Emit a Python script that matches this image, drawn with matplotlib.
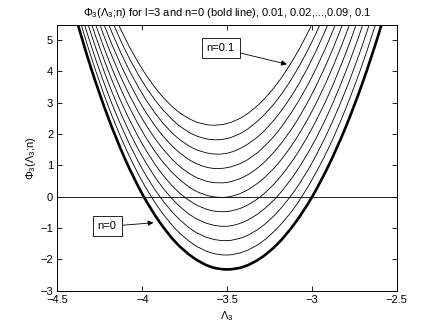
import matplotlib
matplotlib.use("Agg")
import matplotlib.pyplot as plt
from matplotlib.path import Path
from matplotlib.patches import PathPatch

plt.rcParams['font.family'] = ['Liberation Sans', 'DejaVu Sans']
plt.rcParams['mathtext.fontset'] = 'custom'
plt.rcParams['mathtext.rm'] = 'Liberation Sans'
plt.rcParams['mathtext.it'] = 'Liberation Sans'
plt.rcParams['mathtext.default'] = 'regular'
plt.rcParams['axes.unicode_minus'] = True

# Lambda_3 sample positions
lam = [-4.5, -4.4, -4.3, -4.2, -4.1, -4.0, -3.9, -3.8, -3.7, -3.6, -3.5,
       -3.4, -3.3, -3.2, -3.1, -3.0, -2.9, -2.8, -2.7, -2.6, -2.5]

# Phi_3 values for each n
phi_n000 = [7.98, 5.90, 4.08, 2.52, 1.19, 0.09, -0.79, -1.47, -1.94, -2.23, -2.32,
            -2.23, -1.95, -1.49, -0.84, -0.01, 1.02, 2.24, 3.67, 5.32, 7.18]
phi_n001 = [8.32, 6.25, 4.45, 2.89, 1.58, 0.49, -0.38, -1.05, -1.51, -1.78, -1.86,
            -1.75, -1.46, -0.98, -0.32, 0.54, 1.58, 2.83, 4.28, 5.95, 7.84]
phi_n002 = [8.67, 6.61, 4.81, 3.27, 1.97, 0.89, 0.03, -0.62, -1.08, -1.33, -1.40,
            -1.28, -0.97, -0.47, 0.21, 1.08, 2.15, 3.42, 4.89, 6.58, 8.50]
phi_n003 = [9.01, 6.96, 5.18, 3.65, 2.35, 1.29, 0.44, -0.20, -0.64, -0.88, -0.94,
            -0.80, -0.47, 0.04, 0.74, 1.63, 2.71, 4.01, 5.50, 7.22, 9.17]
phi_n004 = [9.35, 7.31, 5.54, 4.02, 2.74, 1.69, 0.85, 0.22, -0.20, -0.43, -0.47,
            -0.32, 0.02, 0.55, 1.27, 2.18, 3.28, 4.60, 6.12, 7.86, 9.83]
phi_n005 = [9.69, 7.67, 5.91, 4.40, 3.13, 2.09, 1.26, 0.65, 0.23, 0.02, -0.01,
            0.16, 0.52, 1.06, 1.80, 2.73, 3.86, 5.19, 6.74, 8.50, 10.50]
phi_n006 = [10.03, 8.02, 6.27, 4.78, 3.52, 2.49, 1.68, 1.07, 0.67, 0.47, 0.46,
            0.64, 1.01, 1.58, 2.33, 3.28, 4.43, 5.79, 7.36, 9.15, 11.18]
phi_n007 = [10.37, 8.37, 6.64, 5.15, 3.91, 2.89, 2.09, 1.50, 1.11, 0.92, 0.93,
            1.12, 1.51, 2.09, 2.87, 3.83, 5.00, 6.38, 7.98, 9.80, 11.85]
phi_n008 = [10.71, 8.73, 7.00, 5.53, 4.30, 3.29, 2.50, 1.92, 1.55, 1.38, 1.39,
            1.61, 2.01, 2.61, 3.40, 4.39, 5.58, 6.98, 8.60, 10.45, 12.53]
phi_n009 = [11.06, 9.08, 7.37, 5.91, 4.68, 3.69, 2.92, 2.35, 1.99, 1.83, 1.86,
            2.09, 2.52, 3.13, 3.94, 4.95, 6.16, 7.59, 9.23, 11.10, 13.21]
phi_n010 = [11.30, 9.35, 7.68, 6.25, 5.05, 4.08, 3.32, 2.77, 2.43, 2.29, 2.34,
            2.58, 3.02, 3.65, 4.48, 5.51, 6.74, 8.19, 9.86, 11.76, 13.90]

thin_curves = [phi_n001, phi_n002, phi_n003, phi_n004, phi_n005,
               phi_n006, phi_n007, phi_n008, phi_n009, phi_n010]

x_ticks = [-4.5, -4.0, -3.5, -3.0, -2.5]
x_ticklabels = ['-4.5', '-4', '-3.5', '-3', '-2.5']
y_ticks = [-3, -2, -1, 0, 1, 2, 3, 4, 5]

title = r'$\Phi_3$($\Lambda_3$;n) for l=3 and n=0 (bold line), 0.01, 0.02,...,0.09, 0.1'


def smooth_path(xs, ys):
    """Smooth (Catmull-Rom as cubic Bezier) path through the given points."""
    pts = list(zip(xs, ys))
    verts = [pts[0]]
    codes = [Path.MOVETO]
    n = len(pts)
    for i in range(n - 1):
        p0 = pts[i - 1] if i > 0 else pts[i]
        p1 = pts[i]
        p2 = pts[i + 1]
        p3 = pts[i + 2] if i + 2 < n else pts[i + 1]
        c1 = (p1[0] + (p2[0] - p0[0]) / 6.0, p1[1] + (p2[1] - p0[1]) / 6.0)
        c2 = (p2[0] - (p3[0] - p1[0]) / 6.0, p2[1] - (p3[1] - p1[1]) / 6.0)
        verts += [c1, c2, p2]
        codes += [Path.CURVE4] * 3
    return Path(verts, codes)


fig = plt.figure(figsize=(4.38, 3.29), dpi=100)
ax = fig.add_axes([0.131, 0.1164, 0.775, 0.8091])

for c in thin_curves:
    ax.add_patch(PathPatch(smooth_path(lam, c), fill=False, ec='black', lw=0.6))
ax.add_patch(PathPatch(smooth_path(lam, phi_n000), fill=False, ec='black', lw=1.9))
ax.axhline(0, color='black', lw=0.6)

ax.set_xlim(-4.5, -2.5)
ax.set_ylim(-3, 5.5)
ax.set_xticks(x_ticks)
ax.set_xticklabels([s.replace('-', '\u2212') for s in x_ticklabels])
ax.set_yticks(y_ticks)
ax.tick_params(direction='in', length=3.5, width=0.6, labelsize=8,
               top=True, right=True, pad=3)
for s in ax.spines.values():
    s.set_linewidth(0.7)

ax.set_title(title, fontsize=8, pad=6)
ax.set_xlabel(r'$\Lambda_3$', fontsize=8, labelpad=3)
ax.set_ylabel(r'$\Phi_3$($\Lambda_3$;n)', fontsize=8, labelpad=1.5)

ax.annotate('n=0.1', xy=(-3.148, 4.23), xytext=(-3.538, 4.744),
            fontsize=8, ha='center', va='center',
            bbox=dict(boxstyle='square,pad=0.45', fc='white', ec='black', lw=0.6),
            arrowprops=dict(arrowstyle='-|>', color='black', lw=0.6,
                            mutation_scale=8, shrinkA=0, shrinkB=0))
ax.annotate('n=0', xy=(-3.934, -0.83), xytext=(-4.207, -0.949),
            fontsize=8, ha='center', va='center',
            bbox=dict(boxstyle='square,pad=0.45', fc='white', ec='black', lw=0.6),
            arrowprops=dict(arrowstyle='-|>', color='black', lw=0.6,
                            mutation_scale=8, shrinkA=0, shrinkB=0))

fig.savefig('out.png', dpi=100)
